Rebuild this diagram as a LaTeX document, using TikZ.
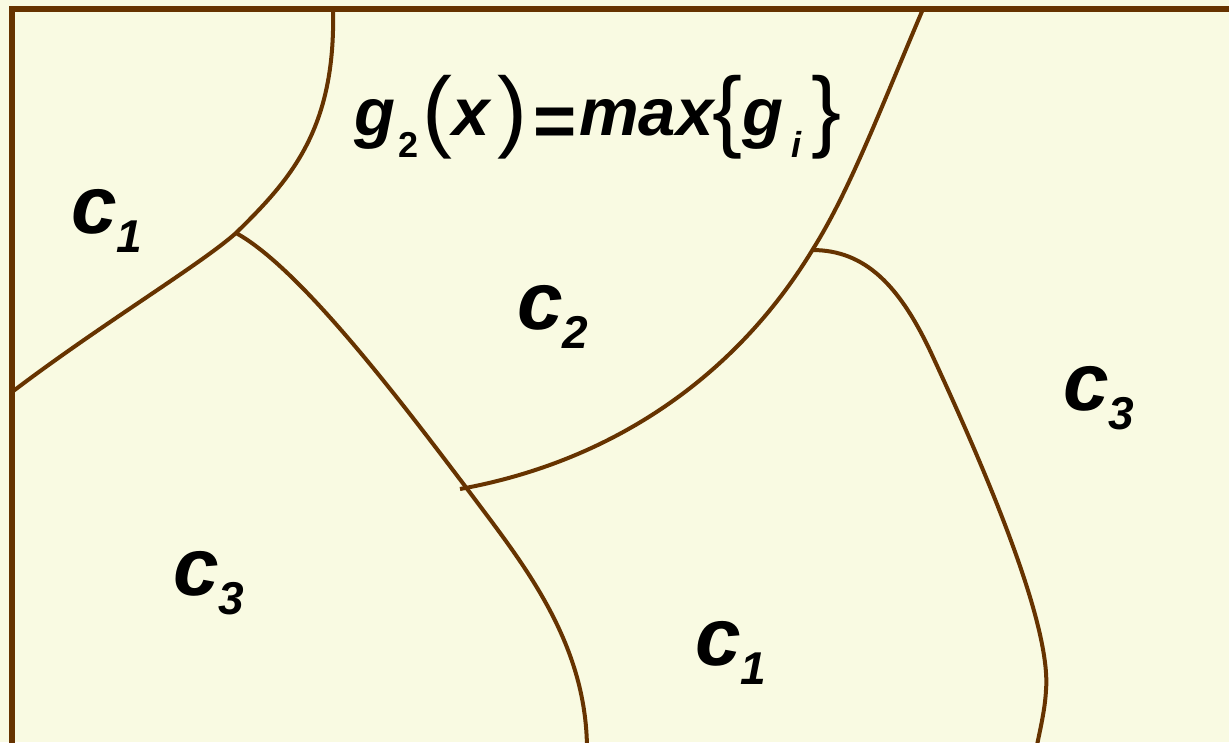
\documentclass[tikz,border=0pt]{standalone}
\usepackage{fontspec}
\setmainfont{Liberation Sans}
\definecolor{bg}{RGB}{249,250,226}
\definecolor{br}{RGB}{102,51,0}
\newcommand{\fgPut}[3]{\rlap{\kern#1pt\raisebox{#2pt}{#3}}}
\newcommand{\fgBI}{\fontsize{67}{67}\selectfont\bfseries\itshape}
\newcommand{\fgSubUp}{\fontsize{36}{36}\selectfont\bfseries\upshape}
\newcommand{\fgSubIt}{\fontsize{36}{36}\selectfont\bfseries\itshape}
\newcommand{\fgBig}{\fontsize{90}{90}\selectfont\mdseries\upshape}
\newcommand{\fgEq}{\fontsize{74}{74}\selectfont\bfseries\upshape}
\newcommand{\fgLabSub}[1]{\raisebox{-19pt}{\fontsize{46}{46}\selectfont #1}}
\begin{document}
\begin{tikzpicture}[x=1pt,y=-1pt,
  region/.style={draw=br, line width=4pt, line join=round},
  framel/.style={draw=br, line width=6pt},
  lbl/.style={anchor=base west, inner sep=0pt, font=\fontsize{82}{82}\selectfont\bfseries\itshape}]
\useasboundingbox (0,0) rectangle (1229,742);
\fill[bg] (0,0) rectangle (1229,742);
\clip (0,0) rectangle (1229,742);
% frame
\draw[framel] (12,760) -- (12,9) -- (1240,9);
% junction points
\coordinate (jA) at (236,233);
\coordinate (jB) at (468,490);
\coordinate (jC) at (813,249);
% curves
\draw[region] (333,9) .. controls (336,130) and (290,180) .. (jA)
  .. controls (200,265) and (100,325) .. (12,392);
\draw[region] (jA) .. controls (300,268) and (400,400) .. (jB)
  .. controls (520,560) and (587,640) .. (587,750);
\draw[region] (923,9) .. controls (880,110) and (850,190) .. (jC)
  .. controls (740,370) and (620,460) .. (460,489);
\draw[region] (812,250) .. controls (865,250) and (900,285) .. (933,357)
  .. controls (975,448) and (1052,620) .. (1046,690)
  .. controls (1045,710) and (1040,730) .. (1036,750);
% labels
\node[lbl] (c1a) at (71,233) {c\fgLabSub{1}};
\node[lbl] (c2) at (517,329) {c\fgLabSub{2}};
\node[lbl] (c3a) at (1063,410) {c\fgLabSub{3}};
\node[lbl] (c3b) at (173,595) {c\fgLabSub{3}};
\node[lbl] (c1b) at (695,665) {c\fgLabSub{1}};
% formula
\node[anchor=base west, inner sep=0pt] (formula) at (354,135) {\makebox[484pt][l]{%
\fgPut{0}{0}{\fgBI g}%
\fgPut{44}{-22}{\fgSubUp 2}%
\fgPut{68}{-5}{\fgBig (}%
\fgPut{98}{0}{\fgBI x}%
\fgPut{143}{-5}{\fgBig )}%
\fgPut{179}{-11}{\fgEq =}%
\fgPut{225}{0}{\fgBI max}%
\fgPut{358}{-5}{\fgBig \{}%
\fgPut{388}{0}{\fgBI g}%
\fgPut{437}{-22}{\fgSubIt i}%
\fgPut{457}{-5}{\fgBig \}}%
}};
\end{tikzpicture}
\end{document}
